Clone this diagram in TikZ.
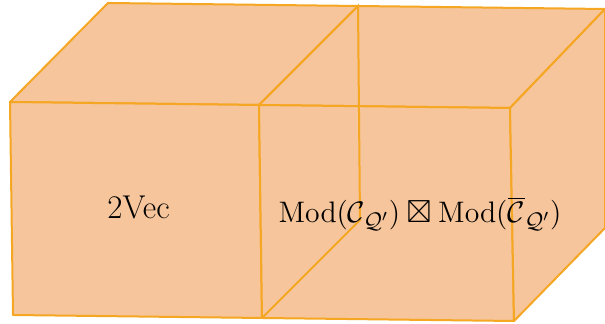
\documentclass[tikz,border=0pt]{standalone}
\usepackage{amssymb}
\definecolor{cubefill}{HTML}{F6C59B}
\definecolor{cubeedge}{HTML}{F5A623}
\begin{document}
\begin{tikzpicture}[x=0.5pt,y=-0.5pt,
  face/.style={fill=cubefill,draw=cubeedge,line width=1pt,line join=round},
  edge/.style={draw=cubeedge,line width=1pt,line cap=round},
  lbl/.style={anchor=base,inner sep=0pt}]
\useasboundingbox (0,0) rectangle (605,324);
% corners
\coordinate (LFtl) at (10,102);
\coordinate (LBtl) at (108,3);
\coordinate (MBt) at (358,6);
\coordinate (MFt) at (259,105);
\coordinate (MFb) at (262,318);
\coordinate (LFbl) at (13,315);
\coordinate (MBb) at (360,220);
\coordinate (RBt) at (605,9);
\coordinate (RFt) at (510,108);
\coordinate (RFb) at (514,321);
\coordinate (RBb) at (605,228);
% left cube
\path[face] (LFtl) -- (LBtl) -- (MBt) -- (MFt) -- cycle;
\path[face] (LFtl) -- (MFt) -- (MFb) -- (LFbl) -- cycle;
% right cube
\path[face] (MFt) -- (MBt) -- (RBt) -- (RFt) -- cycle;
\path[face] (MFt) -- (RFt) -- (RFb) -- (MFb) -- cycle;
\path[face] (RFt) -- (RBt) -- (RBb) -- (RFb) -- cycle;
% shared face edges
\draw[edge] (MFt) -- (MBt) -- (MBb) -- (MFb);
% labels
\node[lbl,font=\fontsize{16.5}{19}\selectfont] (a) at (138.5,219) {2Vec};
\node[lbl,font=\fontsize{15.5}{18}\selectfont] (b) at (420,223) {\scalebox{1.03}{$\mathrm{Mod}(\mathcal{C}_{\mathcal{Q}'})\boxtimes\mathrm{Mod}(\overline{\mathcal{C}}_{\mathcal{Q}'})$}};
\end{tikzpicture}
\end{document}
